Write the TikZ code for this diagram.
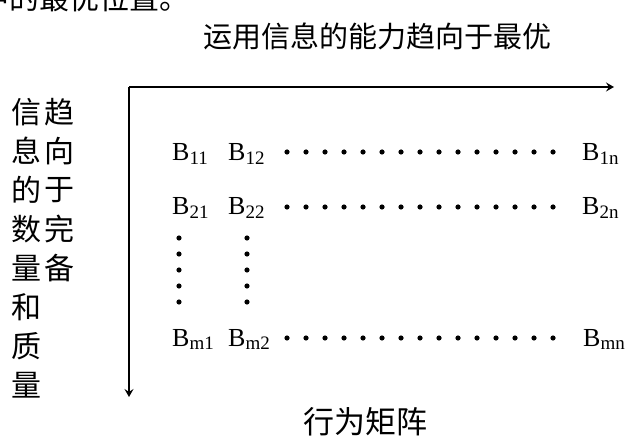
\documentclass[tikz,border=0pt]{standalone}
\usepackage{fontspec}
\setmainfont{Liberation Serif}
\newfontfamily\cjk{Noto Sans CJK SC}
\usepackage{tikz}
\usetikzlibrary{positioning,arrows.meta}
\newcommand{\sub}[1]{\raisebox{-0.15em}{\fontsize{19}{19}\selectfont #1}}

\begin{document}
\begin{tikzpicture}[x=1pt,y=-1pt,
  zh/.style={inner sep=0pt, font=\cjk\fontsize{30}{30}\selectfont},
  entry/.style={inner sep=0pt, anchor=base west, font=\fontsize{26}{26}\selectfont},
  axis/.style={line width=1.5pt, -{Stealth[length=8pt,width=9pt,inset=3pt]}}]
 \useasboundingbox (0,0) rectangle (629,438);

 % cut-off line of the text above
 \node[zh, anchor=west] (prev) at (-21,-2) {中的最优位置。};

 % axes
 \coordinate (O) at (129,87);
 \coordinate (xend) at (614,87);
 \coordinate (yend) at (129,397);
 \draw[axis] (O) -- (xend);
 \draw[axis] (O) -- (yend);

 \node[zh, font=\cjk\fontsize{29}{29}\selectfont] (title) at (377,36) {运用信息的能力趋向于最优};
 \node[zh, font=\cjk\fontsize{31}{31}\selectfont] (xlabel) at (365,422) {行为矩阵};

 % left column labels
 \foreach \ch [count=\i] in {信,息,的,数,量,和,质,量}
   \node[zh] (a\i) at (27,73+39*\i) {\ch};
 \foreach \ch [count=\i] in {趋,向,于,完,备}
   \node[zh] (b\i) at (59,73+39*\i) {\ch};

 % matrix entries
 \node[entry] (B11) at (172,161) {B\sub{11}};
 \node[entry] (B12) at (228,161) {B\sub{12}};
 \node[entry] (B1n) at (582,161) {B\sub{1n}};
 \node[entry] (B21) at (172,215) {B\sub{21}};
 \node[entry] (B22) at (228,215) {B\sub{22}};
 \node[entry] (B2n) at (582,215) {B\sub{2n}};
 \node[entry] (Bm1) at (172,346) {B\sub{m1}};
 \node[entry] (Bm2) at (228,346) {B\sub{m2}};
 \node[entry] (Bmn) at (583,346) {B\sub{mn}};

 % dots
 \foreach \y in {152,207,338}
  \foreach \k in {0,...,14}
   \fill (287+19*\k,\y) circle (2.6);
 \foreach \x in {179,247}
  \foreach \k in {0,...,4}
   \fill (\x,238+16*\k) circle (2.6);

\end{tikzpicture}
\end{document}
